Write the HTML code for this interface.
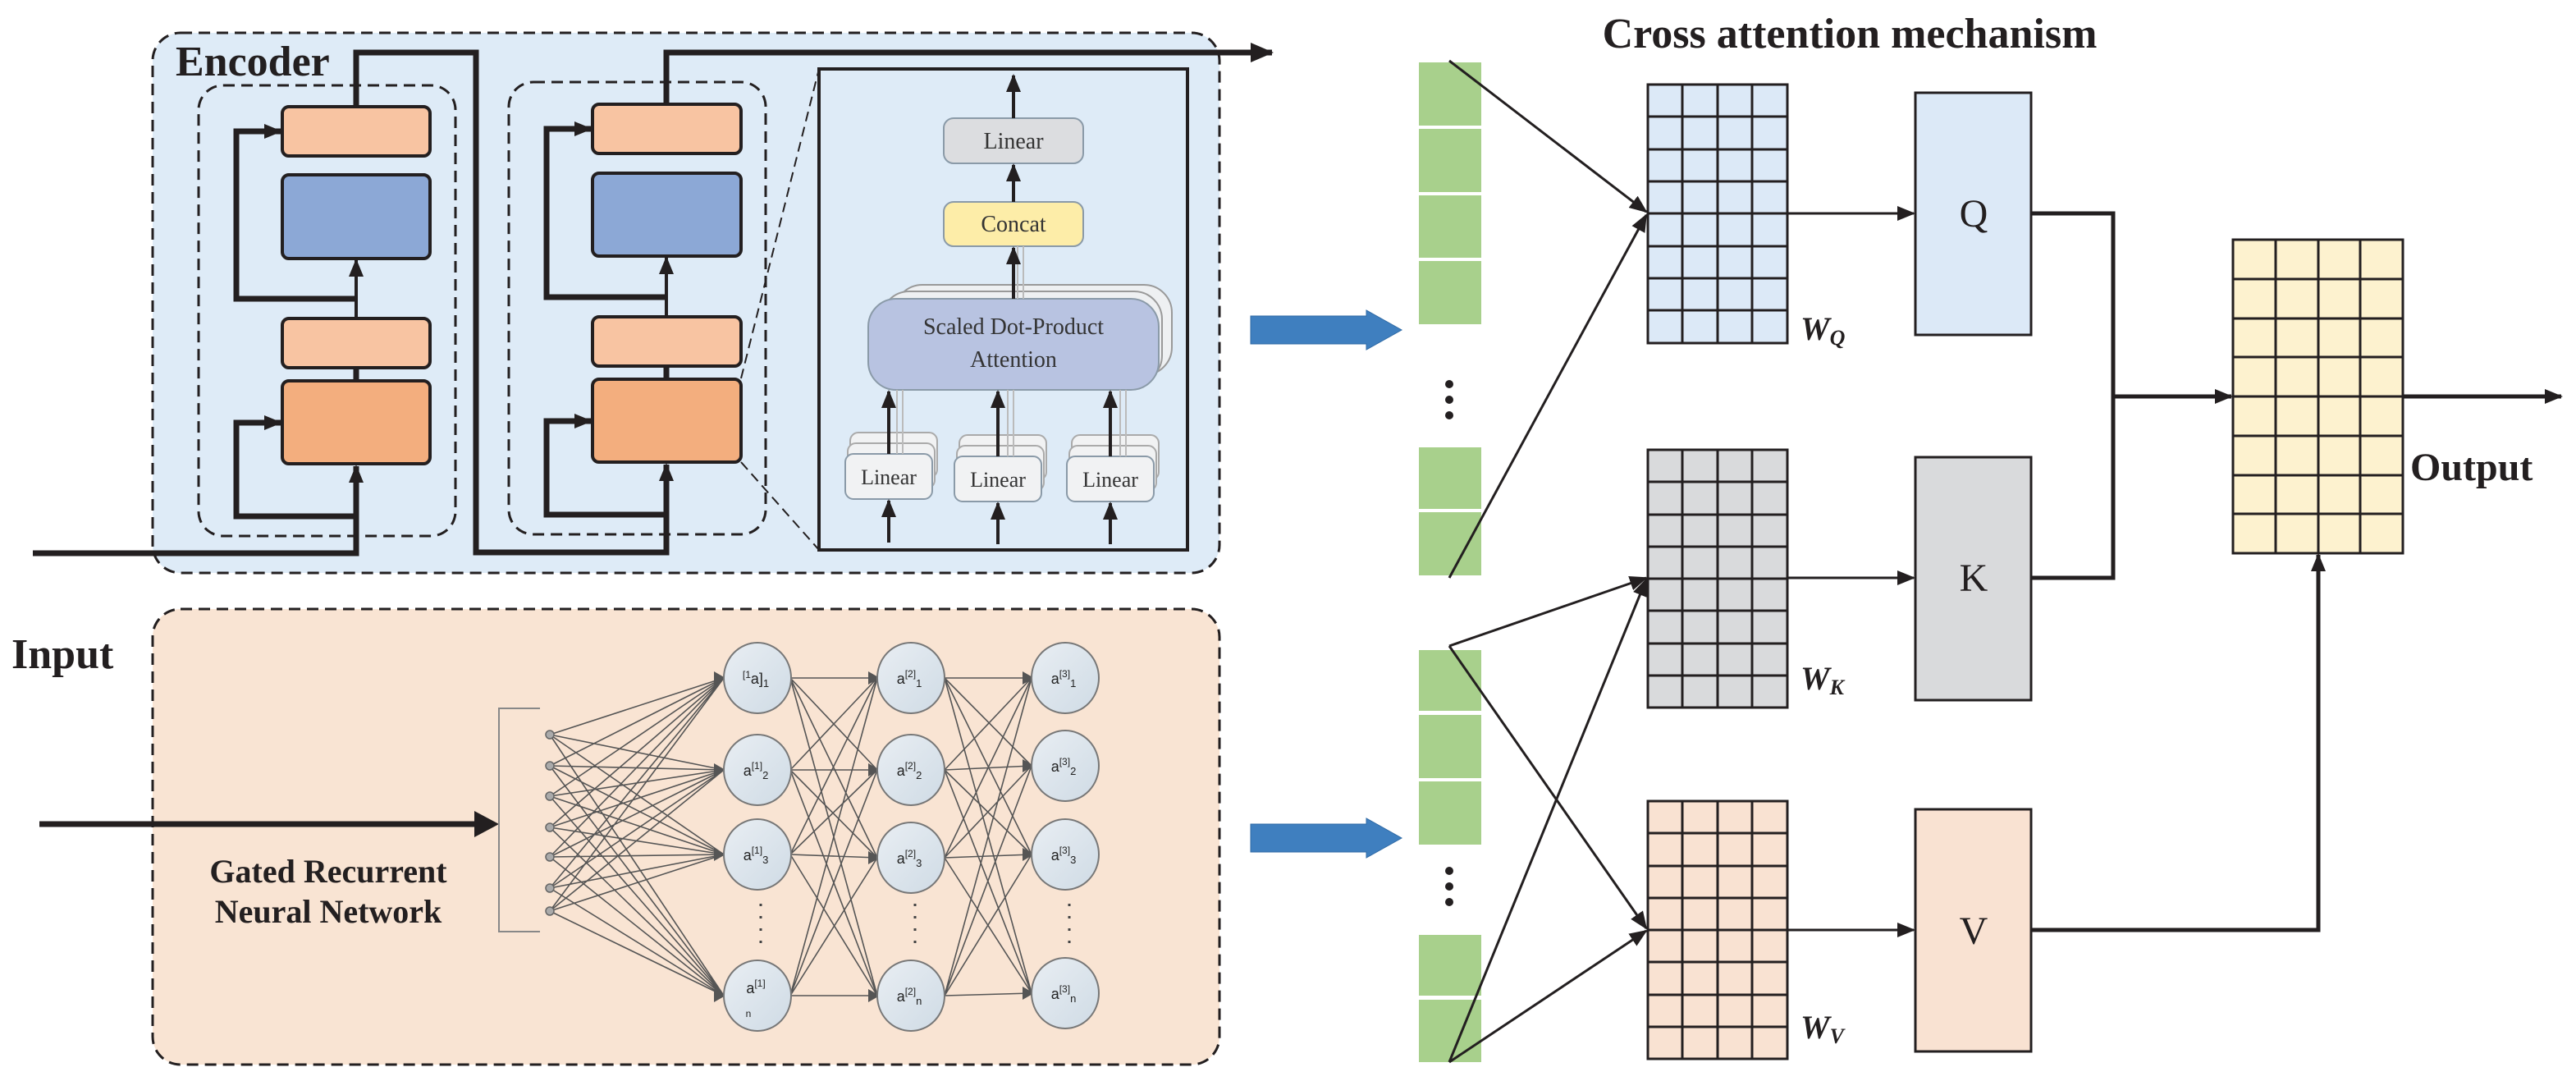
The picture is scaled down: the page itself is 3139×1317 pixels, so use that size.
<!DOCTYPE html>
<html><head><meta charset="utf-8"><style>html,body{margin:0;padding:0;background:#fff}svg{display:block}</style></head><body>
<svg width="3139" height="1317" viewBox="0 0 3139 1317" xmlns="http://www.w3.org/2000/svg">
<defs>
<marker id="ah" markerWidth="28" markerHeight="24" refX="26" refY="12" orient="auto" markerUnits="userSpaceOnUse"><path d="M0 0L28 12L0 24z" fill="#231f20"/></marker>
<marker id="as" markerWidth="22" markerHeight="18" refX="20" refY="9" orient="auto" markerUnits="userSpaceOnUse"><path d="M0 0L22 9L0 18z" fill="#231f20"/></marker>
<linearGradient id="ng" x1="0" y1="0" x2="1" y2="1"><stop offset="0" stop-color="#e9eef3"/><stop offset="1" stop-color="#cfdbe5"/></linearGradient>
</defs>
<g font-family="Liberation Serif, serif">
<rect x="186" y="40" width="1300" height="658" rx="34" fill="#deebf7" stroke="#231f20" stroke-width="3" stroke-dasharray="14 8"/>
<text x="214" y="92" font-size="52" font-weight="bold" fill="#231f20">Encoder</text>
<rect x="242" y="104" width="313" height="549" rx="30" fill="none" stroke="#231f20" stroke-width="3" stroke-dasharray="14 8"/>
<rect x="620" y="100" width="313" height="551" rx="30" fill="none" stroke="#231f20" stroke-width="3" stroke-dasharray="14 8"/>
<g stroke="#231f20" stroke-width="4">
<rect x="344" y="130" width="180" height="60" rx="8" fill="#f8c4a2"/>
<rect x="344" y="213" width="180" height="102" rx="8" fill="#8ca8d6"/>
<rect x="344" y="388" width="180" height="60" rx="8" fill="#f8c4a2"/>
<rect x="344" y="464" width="180" height="101" rx="8" fill="#f3ae7e"/>
<rect x="722" y="127" width="181" height="60" rx="8" fill="#f8c4a2"/>
<rect x="722" y="211" width="181" height="101" rx="8" fill="#8ca8d6"/>
<rect x="722" y="386" width="181" height="60" rx="8" fill="#f8c4a2"/>
<rect x="722" y="462" width="181" height="101" rx="8" fill="#f3ae7e"/>
</g>
<g fill="none" stroke="#231f20" stroke-width="7">
<path d="M40 674H434V568" marker-end="url(#as)"/>
<path d="M434 629H288V515H342" marker-end="url(#as)"/>
<path d="M434 464V448"/>
<path d="M434 388V317" stroke-width="4" marker-end="url(#as)"/>
<path d="M434 364H288V160H342" marker-end="url(#as)"/>
<path d="M434 130V64H580V673H812V566" marker-end="url(#as)"/>
<path d="M812 627H666V513H720" marker-end="url(#as)"/>
<path d="M812 462V446"/>
<path d="M812 386V314" stroke-width="4" marker-end="url(#as)"/>
<path d="M812 362H666V157H720" marker-end="url(#as)"/>
<path d="M812 127V64H1550" marker-end="url(#ah)"/>
</g>
<path d="M903 461L998 84M903 563L998 670" stroke="#231f20" stroke-width="2" stroke-dasharray="12 7" fill="none"/>
<rect x="998" y="84" width="449" height="586" fill="#deebf7" stroke="#231f20" stroke-width="4"/>
<rect x="1150" y="144" width="170" height="55" rx="12" fill="#dcdde0" stroke="#8a9aa8" stroke-width="2"/>
<text x="1235" y="181" font-size="28" text-anchor="middle" fill="#333">Linear</text>
<rect x="1150" y="246" width="170" height="54" rx="12" fill="#fdeda8" stroke="#8a9aa8" stroke-width="2"/>
<text x="1235" y="282" font-size="28" text-anchor="middle" fill="#333">Concat</text>
<rect x="1090" y="347" width="338" height="110" rx="34" fill="#eef0f2" stroke="#999" stroke-width="2"/>
<rect x="1074" y="355" width="342" height="112" rx="34" fill="#eef0f2" stroke="#999" stroke-width="2"/>
<rect x="1058" y="364" width="354" height="111" rx="34" fill="#b8c3e1" stroke="#8a9aa8" stroke-width="2"/>
<text x="1235" y="407" font-size="28" text-anchor="middle" fill="#333">Scaled Dot-Product</text>
<text x="1235" y="447" font-size="28" text-anchor="middle" fill="#333">Attention</text>
<g stroke="#aaa" stroke-width="2" fill="#f1f2f3">
<rect x="1036" y="527" width="106" height="55" rx="10"/><rect x="1033" y="540" width="106" height="55" rx="10"/>
<rect x="1169" y="530" width="106" height="55" rx="10"/><rect x="1166" y="543" width="106" height="55" rx="10"/>
<rect x="1306" y="530" width="106" height="55" rx="10"/><rect x="1303" y="543" width="106" height="55" rx="10"/>
</g>
<g stroke="#8a9aa8" stroke-width="2" fill="#f1f2f3">
<rect x="1030" y="553" width="106" height="55" rx="10"/>
<rect x="1163" y="556" width="106" height="55" rx="10"/>
<rect x="1300" y="556" width="106" height="55" rx="10"/>
</g>
<g font-size="26" text-anchor="middle" fill="#333">
<text x="1083" y="590">Linear</text><text x="1216" y="593">Linear</text><text x="1353" y="593">Linear</text>
</g>
<g stroke="#bbb" stroke-width="2"><path d="M1093 553V475M1100 553V475M1228 556V475M1235 556V475M1365 556V475M1372 556V475M1240 364V300M1247 364V300"/></g>
<g stroke="#231f20" stroke-width="4" fill="none">
<path d="M1235 144V92" marker-end="url(#as)"/>
<path d="M1235 246V201" marker-end="url(#as)"/>
<path d="M1235 364V302" marker-end="url(#as)"/>
<path d="M1083 553V477" marker-end="url(#as)"/>
<path d="M1216 556V477" marker-end="url(#as)"/>
<path d="M1353 556V477" marker-end="url(#as)"/>
<path d="M1083 661V610" marker-end="url(#as)"/>
<path d="M1216 663V613" marker-end="url(#as)"/>
<path d="M1353 663V613" marker-end="url(#as)"/>
</g>
<rect x="186" y="742" width="1300" height="555" rx="34" fill="#f9e4d3" stroke="#231f20" stroke-width="3" stroke-dasharray="14 8"/>
<text x="14" y="814" font-size="52" font-weight="bold" fill="#231f20">Input</text>
<path d="M48 1004H580" stroke="#231f20" stroke-width="7"/>
<path d="M578 988L608 1004L578 1020z" fill="#231f20"/>
<text x="400" y="1075" font-size="40" font-weight="bold" text-anchor="middle" fill="#231f20">Gated Recurrent</text>
<text x="400" y="1124" font-size="40" font-weight="bold" text-anchor="middle" fill="#231f20">Neural Network</text>
<path d="M658 863H608V1135H658" fill="none" stroke="#888" stroke-width="2"/>
<g fill="none" stroke="#555" stroke-width="1.6">
<path d="M670 895L882 826M670 895L882 938M670 895L882 1041M670 895L882 1213M670 933L882 826M670 933L882 938M670 933L882 1041M670 933L882 1213M670 970L882 826M670 970L882 938M670 970L882 1041M670 970L882 1213M670 1008L882 826M670 1008L882 938M670 1008L882 1041M670 1008L882 1213M670 1044L882 826M670 1044L882 938M670 1044L882 1041M670 1044L882 1213M670 1082L882 826M670 1082L882 938M670 1082L882 1041M670 1082L882 1213M670 1110L882 826M670 1110L882 938M670 1110L882 1041M670 1110L882 1213"/>
<path d="M963 826L1069 826M963 826L1069 938M963 826L1069 1045M963 826L1069 1213M963 938L1069 826M963 938L1069 938M963 938L1069 1045M963 938L1069 1213M963 1041L1069 826M963 1041L1069 938M963 1041L1069 1045M963 1041L1069 1213M963 1213L1069 826M963 1213L1069 938M963 1213L1069 1045M963 1213L1069 1213"/>
<path d="M1151 826L1257 826M1151 826L1257 933M1151 826L1257 1041M1151 826L1257 1210M1151 938L1257 826M1151 938L1257 933M1151 938L1257 1041M1151 938L1257 1210M1151 1045L1257 826M1151 1045L1257 933M1151 1045L1257 1041M1151 1045L1257 1210M1151 1213L1257 826M1151 1213L1257 933M1151 1213L1257 1041M1151 1213L1257 1210"/>
</g>
<g fill="#555"><path d="M1058 818L1072 826L1058 834zM1058 930L1072 938L1058 946zM1058 1037L1072 1045L1058 1053zM1058 1205L1072 1213L1058 1221zM1246 818L1260 826L1246 834zM1246 925L1260 933L1246 941zM1246 1033L1260 1041L1246 1049zM1246 1202L1260 1210L1246 1218zM870 818L884 826L870 834zM870 930L884 938L870 946zM870 1033L884 1041L870 1049zM870 1205L884 1213L870 1221z"/></g>
<g fill="#aaa" stroke="#666" stroke-width="1.5">
<circle cx="670" cy="895" r="5"/><circle cx="670" cy="933" r="5"/><circle cx="670" cy="970" r="5"/><circle cx="670" cy="1008" r="5"/><circle cx="670" cy="1044" r="5"/><circle cx="670" cy="1082" r="5"/><circle cx="670" cy="1110" r="5"/>
</g>
<g fill="url(#ng)" stroke="#777" stroke-width="2">
<ellipse cx="923" cy="826" rx="41" ry="43"/><ellipse cx="923" cy="938" rx="41" ry="43"/><ellipse cx="923" cy="1041" rx="41" ry="43"/><ellipse cx="923" cy="1213" rx="41" ry="43"/>
<ellipse cx="1110" cy="826" rx="41" ry="43"/><ellipse cx="1110" cy="938" rx="41" ry="43"/><ellipse cx="1110" cy="1045" rx="41" ry="43"/><ellipse cx="1110" cy="1213" rx="41" ry="43"/>
<ellipse cx="1298" cy="826" rx="41" ry="43"/><ellipse cx="1298" cy="933" rx="41" ry="43"/><ellipse cx="1298" cy="1041" rx="41" ry="43"/><ellipse cx="1298" cy="1210" rx="41" ry="43"/>
</g>
<g font-family="Liberation Sans, sans-serif" font-size="18" fill="#222" text-anchor="middle">
<text x="921" y="833"><tspan font-size="12" dy="-7">[1</tspan><tspan dy="7">a]</tspan><tspan font-size="13" dy="4">1</tspan></text>
<text x="921" y="945">a<tspan font-size="12" dy="-8">[1]</tspan><tspan font-size="13" dy="12">2</tspan></text>
<text x="921" y="1048">a<tspan font-size="12" dy="-8">[1]</tspan><tspan font-size="13" dy="12">3</tspan></text>
<text x="921" y="1210">a<tspan font-size="12" dy="-8">[1]</tspan></text><text x="912" y="1239" font-size="12">n</text>
<text x="1108" y="833">a<tspan font-size="12" dy="-8">[2]</tspan><tspan font-size="13" dy="12">1</tspan></text>
<text x="1108" y="945">a<tspan font-size="12" dy="-8">[2]</tspan><tspan font-size="13" dy="12">2</tspan></text>
<text x="1108" y="1052">a<tspan font-size="12" dy="-8">[2]</tspan><tspan font-size="13" dy="12">3</tspan></text>
<text x="1108" y="1220">a<tspan font-size="12" dy="-8">[2]</tspan><tspan font-size="13" dy="12">n</tspan></text>
<text x="1296" y="833">a<tspan font-size="12" dy="-8">[3]</tspan><tspan font-size="13" dy="12">1</tspan></text>
<text x="1296" y="940">a<tspan font-size="12" dy="-8">[3]</tspan><tspan font-size="13" dy="12">2</tspan></text>
<text x="1296" y="1048">a<tspan font-size="12" dy="-8">[3]</tspan><tspan font-size="13" dy="12">3</tspan></text>
<text x="1296" y="1217">a<tspan font-size="12" dy="-8">[3]</tspan><tspan font-size="13" dy="12">n</tspan></text>
</g>
<g stroke="#444" stroke-width="3" stroke-dasharray="3 12"><path d="M927 1101V1152M1115 1101V1152M1303 1101V1152"/></g>
<g fill="#3f7fbf" stroke="#2f6aa5" stroke-width="1">
<path d="M1524 385H1665V378L1708 402L1665 426V419H1524z"/>
<path d="M1524 1004H1665V997L1708 1021L1665 1045V1038H1524z"/>
</g>
<text x="2254" y="58" font-size="52" font-weight="bold" text-anchor="middle" fill="#231f20">Cross attention mechanism</text>
<g fill="#a8d08c">
<rect x="1729" y="76" width="76" height="77"/><rect x="1729" y="157" width="76" height="77"/><rect x="1729" y="238" width="76" height="76"/><rect x="1729" y="318" width="76" height="77"/>
<rect x="1729" y="545" width="76" height="75"/><rect x="1729" y="624" width="76" height="77"/>
<rect x="1729" y="792" width="76" height="74"/><rect x="1729" y="871" width="76" height="77"/><rect x="1729" y="952" width="76" height="77"/>
<rect x="1729" y="1139" width="76" height="74"/><rect x="1729" y="1218" width="76" height="76"/>
</g>
<g fill="#231f20"><circle cx="1766" cy="468" r="5"/><circle cx="1766" cy="487" r="5"/><circle cx="1766" cy="506" r="5"/><circle cx="1766" cy="1061" r="5"/><circle cx="1766" cy="1080" r="5"/><circle cx="1766" cy="1099" r="5"/></g>
<g stroke="#231f20" stroke-width="3" fill="none">
<path d="M1766 74L2006 258" marker-end="url(#as)"/>
<path d="M1766 704L2006 262" marker-end="url(#as)"/>
<path d="M1766 787L2006 704" marker-end="url(#as)"/>
<path d="M1766 787L2006 1131" marker-end="url(#as)"/>
<path d="M1766 1294L2006 706" marker-end="url(#as)"/>
<path d="M1766 1294L2006 1134" marker-end="url(#as)"/>
</g>
<g stroke="#231f20" stroke-width="3">
<rect x="2008" y="103" width="170" height="315" fill="#dce9f7"/>
<rect x="2008" y="548" width="170" height="314" fill="#d9dadc"/>
<rect x="2008" y="976" width="170" height="314" fill="#f9e2d2"/>
<rect x="2721" y="292" width="207" height="382" fill="#fdf2cf"/>
<path d="M2050 103V418M2093 103V418M2135 103V418M2008 142H2178M2008 182H2178M2008 221H2178M2008 260H2178M2008 300H2178M2008 339H2178M2008 378H2178"/>
<path d="M2050 548V862M2093 548V862M2135 548V862M2008 587H2178M2008 627H2178M2008 666H2178M2008 705H2178M2008 744H2178M2008 784H2178M2008 823H2178"/>
<path d="M2050 976V1290M2093 976V1290M2135 976V1290M2008 1015H2178M2008 1055H2178M2008 1094H2178M2008 1133H2178M2008 1172H2178M2008 1212H2178M2008 1251H2178"/>
<path d="M2773 292V674M2825 292V674M2876 292V674M2721 340H2928M2721 388H2928M2721 435H2928M2721 483H2928M2721 531H2928M2721 579H2928M2721 626H2928"/>
<rect x="2334" y="113" width="141" height="295" fill="#dce9f7"/>
<rect x="2334" y="557" width="141" height="296" fill="#d9dadc"/>
<rect x="2334" y="986" width="141" height="295" fill="#f9e2d2"/>
</g>
<g font-size="48" text-anchor="middle" fill="#231f20">
<text x="2405" y="276">Q</text><text x="2405" y="720">K</text><text x="2405" y="1150">V</text>
</g>
<g font-size="40" font-style="italic" font-weight="bold" fill="#231f20">
<text x="2194" y="414">W<tspan font-size="26" dy="6">Q</tspan></text>
<text x="2194" y="840">W<tspan font-size="26" dy="6">K</tspan></text>
<text x="2194" y="1265">W<tspan font-size="26" dy="6">V</tspan></text>
</g>
<text x="2937" y="585" font-size="48" font-weight="bold" fill="#231f20">Output</text>
<g stroke="#231f20" stroke-width="3" fill="none">
<path d="M2178 260H2332" marker-end="url(#as)"/>
<path d="M2178 704H2332" marker-end="url(#as)"/>
<path d="M2178 1133H2332" marker-end="url(#as)"/>
</g>
<g stroke="#231f20" stroke-width="5" fill="none">
<path d="M2475 260H2575V704H2475"/>
<path d="M2575 483H2719" marker-end="url(#as)"/>
<path d="M2928 483H3121" marker-end="url(#as)"/>
<path d="M2475 1133H2825V676" marker-end="url(#as)"/>
</g>
</g>
</svg>
</body></html>
